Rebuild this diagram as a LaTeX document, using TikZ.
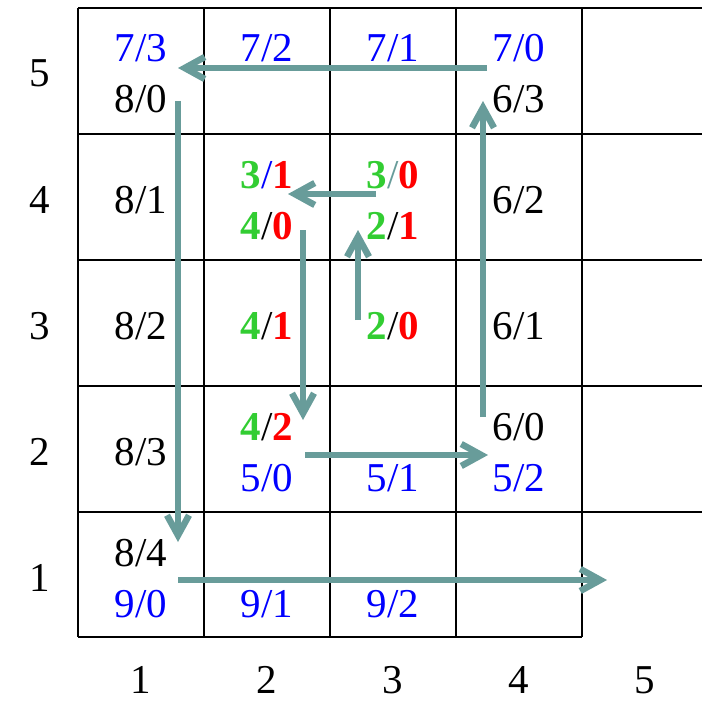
\documentclass[tikz,border=0pt]{standalone}
\usepackage{fontspec}
\setmainfont{Liberation Serif}
\usetikzlibrary{arrows.meta}
\definecolor{arr}{RGB}{104,156,154}
\definecolor{grn}{RGB}{50,205,50}
\definecolor{rd}{RGB}{255,0,0}
\definecolor{bl}{RGB}{0,0,255}
\tikzset{
  gridline/.style={line width=2pt},
  lbl/.style={font=\fontsize{41}{48}\selectfont, anchor=base, inner sep=0pt},
  bluelbl/.style={lbl, text=bl},
  flow/.style={draw=arr, line width=6.5pt, -{Straight Barb[length=20pt,width=22pt]}},
}
\newcommand\Gd[1]{\textbf{\color{grn}#1}}
\newcommand\Rd[1]{\textbf{\color{rd}#1}}
\begin{document}
\begin{tikzpicture}[x=1pt,y=-1pt]
\useasboundingbox (0,0) rectangle (702,701);
% grid
\foreach \yy in {8,134,260,386,512} \draw[gridline] (78,\yy) -- (702,\yy);
\draw[gridline] (78,637) -- (582,637);
\foreach \xx in {78,204,330,456,582} \draw[gridline] (\xx,8) -- (\xx,637);
% row labels
\node[lbl] (r5) at (40,87) {5};
\node[lbl] (r4) at (40,213) {4};
\node[lbl] (r3) at (40,339) {3};
\node[lbl] (r2) at (40,465) {2};
\node[lbl] (r1) at (40,591) {1};
% column labels
\node[lbl] (k1) at (141,693) {1};
\node[lbl] (k2) at (267,693) {2};
\node[lbl] (k3) at (393,693) {3};
\node[lbl] (k4) at (519,693) {4};
\node[lbl] (k5) at (645,693) {5};
% row 5
\node[bluelbl] (c15a) at (141,62) {7/3};
\node[lbl] (c15b) at (141,113) {8/0};
\node[bluelbl] (c25a) at (267,62) {7/2};
\node[bluelbl] (c35a) at (393,62) {7/1};
\node[bluelbl] (c45a) at (519,62) {7/0};
\node[lbl] (c45b) at (519,113) {6/3};
% row 4
\node[lbl] (c14) at (141,213) {8/1};
\node[lbl] (c24a) at (267,188) {\Gd{3}\textcolor{bl}{/}\Rd{1}};
\node[lbl] (c24b) at (267,239) {\Gd{4}/\Rd{0}};
\node[lbl] (c34a) at (393,188) {\Gd{3}\textcolor{arr}{/}\Rd{0}};
\node[lbl] (c34b) at (393,239) {\Gd{2}/\Rd{1}};
\node[lbl] (c44) at (519,213) {6/2};
% row 3
\node[lbl] (c13) at (141,339) {8/2};
\node[lbl] (c23) at (267,339) {\Gd{4}/\Rd{1}};
\node[lbl] (c33) at (393,339) {\Gd{2}/\Rd{0}};
\node[lbl] (c43) at (519,339) {6/1};
% row 2
\node[lbl] (c12) at (141,465) {8/3};
\node[lbl] (c22a) at (267,440) {\Gd{4}/\Rd{2}};
\node[bluelbl] (c22b) at (267,491) {5/0};
\node[bluelbl] (c32b) at (393,491) {5/1};
\node[lbl] (c42a) at (519,440) {6/0};
\node[bluelbl] (c42b) at (519,491) {5/2};
% row 1
\node[lbl] (c11a) at (141,566) {8/4};
\node[bluelbl] (c11b) at (141,617) {9/0};
\node[bluelbl] (c21b) at (267,617) {9/1};
\node[bluelbl] (c31b) at (393,617) {9/2};
% arrow end points
\coordinate (a1s) at (487,68);  \coordinate (a1e) at (178,68);
\coordinate (a2s) at (178,101); \coordinate (a2e) at (178,542);
\coordinate (a3s) at (178,580); \coordinate (a3e) at (607,580);
\coordinate (a4s) at (303,230); \coordinate (a4e) at (303,420);
\coordinate (a5s) at (305,455); \coordinate (a5e) at (488,455);
\coordinate (a6s) at (483,417); \coordinate (a6e) at (483,101);
\coordinate (a7s) at (358,320); \coordinate (a7e) at (358,230);
\coordinate (a8s) at (376,194); \coordinate (a8e) at (288,194);
\draw[flow] (a1s) -- (a1e);
\draw[flow] (a2s) -- (a2e);
\draw[flow] (a3s) -- (a3e);
\draw[flow] (a4s) -- (a4e);
\draw[flow] (a5s) -- (a5e);
\draw[flow] (a6s) -- (a6e);
\draw[flow] (a7s) -- (a7e);
\draw[flow] (a8s) -- (a8e);
\end{tikzpicture}
\end{document}
